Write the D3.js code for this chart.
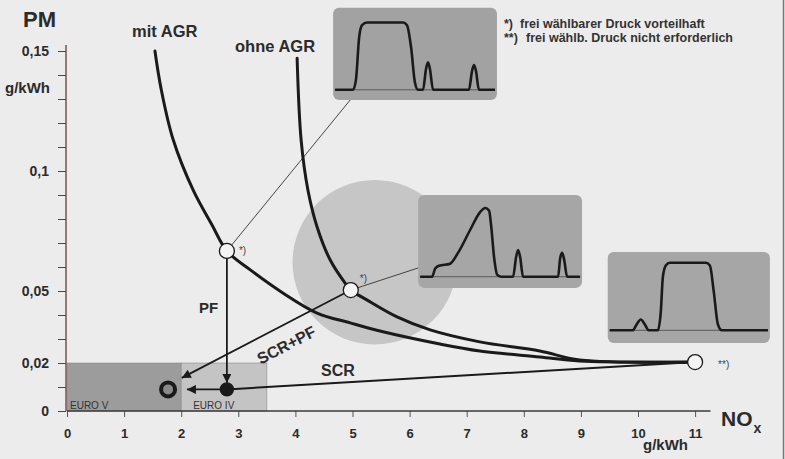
<!DOCTYPE html>
<html>
<head>
<meta charset="utf-8">
<script src="https://cdn.jsdelivr.net/npm/d3@7"></script>
<style>
  body { margin: 0; background: #ececec; }
  text { font-family: "Liberation Sans", Arial, sans-serif; }
</style>
</head>
<body>
<script>
// PM / NOx trade-off, both in g/kWh
const mitAgrNox = [1.54, 1.65, 1.86, 2.21, 2.54, 2.80, 3.21, 3.78, 4.38, 4.96, 5.48, 6.53, 7.23, 8.28, 8.98, 11]
const mitAgrPm = [0.150, 0.134, 0.113, 0.092, 0.0775, 0.0667, 0.0588, 0.0492, 0.0408, 0.0367, 0.0333, 0.0279, 0.025, 0.0225, 0.0208, 0.0204]

const ohneAgrNox = [4.03, 4.10, 4.22, 4.38, 4.61, 4.87, 4.97, 5.25, 5.78, 6.36, 7.23, 8.28, 8.98, 11]
const ohneAgrPm = [0.147, 0.113, 0.092, 0.0767, 0.0629, 0.0533, 0.0504, 0.0463, 0.0392, 0.0338, 0.0288, 0.025, 0.0213, 0.0204]

// operating points
const pointNames = ["mit", "ohne", "scr", "euro4", "euro5"]
const pointNox = [2.80, 4.97, 11, 2.80, 1.77]
const pointPm = [0.0667, 0.0504, 0.0204, 0.009, 0.009]

// arrows: PF, SCR+PF, EURO IV -> EURO V
const arrowFromNox = [2.80, 4.97, 2.80]
const arrowFromPm = [0.0667, 0.0504, 0.009]
const arrowToNox = [2.80, 2.01, 2.10]
const arrowToPm = [0.0117, 0.0138, 0.009]

// EURO limit boxes
const euroNames = ["EURO V", "EURO IV"]
const euroNoxFrom = [0, 2]
const euroNoxTo = [2, 3.5]
const euroPm = [0.02, 0.02]

const xTicks = [0, 1, 2, 3, 4, 5, 6, 7, 8, 9, 10, 11]
const yTicks = [0, 0.02, 0.05, 0.1, 0.15]
const yTickLabels = ["0", "0,02", "0,05", "0,1", "0,15"]
const yMinorTicks = d3.range(0, 16).map(d => d / 100)

// injection rate shapes in the small pictures (t: 0..1 time, v: 0..1 rate)
const pulseTopT = [.012, .122, .140, .159, .177, .207, .427, .451, .476, .5, .518, .549, .567, .579, .591, .61, .829, .848, .86, .872, .89, .988]
const pulseTopV = [0, 0, .16, .78, .96, 1, 1, .96, .63, .1, 0, 0, .31, .41, .31, 0, 0, .28, .37, .28, 0, 0]
const pulseMidT = [.012, .085, .104, .128, .195, .244, .317, .378, .409, .433, .445, .463, .482, .506, .579, .598, .61, .622, .64, .854, .866, .878, .89, .909, .988]
const pulseMidV = [0, 0, .12, .16, .19, .35, .68, .94, 1, .96, .75, .29, .03, 0, 0, .29, .39, .29, 0, 0, .26, .35, .26, 0, 0]
const pulseRightT = [.012, .154, .179, .204, .228, .253, .309, .327, .34, .358, .383, .605, .63, .654, .679, .704, .988]
const pulseRightV = [0, 0, .09, .16, .09, 0, 0, .27, .79, .96, 1, 1, .96, .57, .09, 0, 0]

const width = 785
const height = 459

const svg = d3.select("body").append("svg")
    .attr("width", width)
    .attr("height", height)

svg.append("rect")
    .attr("width", width).attr("height", height)
    .attr("fill", "#ececec")

const x = d3.scaleLinear().domain([0, 11]).range([67, 695.1])
const y = d3.scaleLinear().domain([0, 0.15]).range([411, 51])

const ink = "#1a1a1a"
const textColor = "#2b2b2b"

svg.append("defs").append("marker")
    .attr("id", "arrow")
    .attr("viewBox", "0 -5 10 10")
    .attr("refX", 10)
    .attr("refY", 0)
    .attr("markerUnits", "userSpaceOnUse")
    .attr("markerWidth", 11)
    .attr("markerHeight", 9)
    .attr("orient", "auto")
    .append("path")
    .attr("fill", ink)
    .attr("d", "M0,-5L10,0L0,5Z")

// big grey zone
svg.append("circle")
    .attr("cx", x(5.39))
    .attr("cy", y(0.062))
    .attr("r", x(1.44) - x(0))
    .attr("fill", "#c6c6c6")

// EURO boxes
const euro = euroNames.map((name, i) => ({name, x0: euroNoxFrom[i], x1: euroNoxTo[i], pm: euroPm[i]}))
svg.append("g").selectAll("rect")
    .data(euro)
    .enter().append("rect")
    .attr("x", d => x(d.x0))
    .attr("y", d => y(d.pm))
    .attr("width", d => x(d.x1) - x(d.x0))
    .attr("height", d => y(0) - y(d.pm))
    .attr("fill", (d, i) => i === 0 ? "#9c9c9c" : "#c4c4c4")
    .attr("stroke", "#8a8a8a")
    .attr("stroke-width", 0.6)

svg.append("g").selectAll("text")
    .data(euro)
    .enter().append("text")
    .attr("x", d => x(d.x0) + (d.x0 === 0 ? 3 : 12))
    .attr("y", y(0) - 2)
    .attr("font-size", 10)
    .attr("fill", "#333")
    .text(d => d.name)

// small pictures
const insets = [
    {x0: 4.66, x1: 7.53, top: 0.168, bottom: 0.1296, base: 0.89, peak: 0.16, t: pulseTopT, v: pulseTopV, fill: "#a2a2a2"},
    {x0: 6.15, x1: 9.02, top: 0.09, bottom: 0.0513, base: 0.88, peak: 0.14, t: pulseMidT, v: pulseMidV, fill: "#a6a6a6"},
    {x0: 9.47, x1: 12.31, top: 0.0663, bottom: 0.0283, base: 0.86, peak: 0.12, t: pulseRightT, v: pulseRightV, fill: "#a6a6a6"}
]

insets.forEach(inset => {
    const left = x(inset.x0), top = y(inset.top)
    const w = x(inset.x1) - left, h = y(inset.bottom) - top
    const g = svg.append("g").attr("transform", `translate(${left},${top})`)
    g.append("rect")
        .attr("width", w).attr("height", h)
        .attr("rx", 6)
        .attr("fill", inset.fill)
    const ix = d3.scaleLinear().domain([0, 1]).range([0, w])
    const iy = d3.scaleLinear().domain([0, 1]).range([h * inset.base, h * inset.peak])
    g.append("line")
        .attr("x1", ix(0.012)).attr("x2", ix(0.988))
        .attr("y1", iy(0)).attr("y2", iy(0))
        .attr("stroke", "#5a5a5a").attr("stroke-width", 1)
    const pts = inset.t.map((t, i) => [t, inset.v[i]])
    g.append("path")
        .attr("d", d3.line().x(d => ix(d[0])).y(d => iy(d[1])).curve(d3.curveMonotoneX)(pts))
        .attr("fill", "none")
        .attr("stroke", ink)
        .attr("stroke-width", 2.6)
        .attr("stroke-linejoin", "round")
})

// leader lines
const leaders = [
    [[2.80, 0.0667], [4.96, 0.1296]],
    [[4.97, 0.0504], [6.15, 0.0596]]
]
svg.append("g").selectAll("line")
    .data(leaders)
    .enter().append("line")
    .attr("x1", d => x(d[0][0])).attr("y1", d => y(d[0][1]))
    .attr("x2", d => x(d[1][0])).attr("y2", d => y(d[1][1]))
    .attr("stroke", "#333")
    .attr("stroke-width", 0.9)

// axes
const xAxis = svg.append("g")
    .attr("transform", `translate(0,${y(0)})`)
    .call(d3.axisBottom(x).tickValues(xTicks).tickSize(6).tickPadding(12).tickFormat(d3.format("d")))
xAxis.select(".domain").remove()
xAxis.selectAll("line").attr("stroke", "#555")
xAxis.selectAll("text").attr("font-size", 13).attr("font-weight", "bold").attr("fill", textColor)
    .style("font-family", '"Liberation Sans", Arial, sans-serif')
svg.append("line")
    .attr("x1", x(0)).attr("x2", x(11.27))
    .attr("y1", y(0)).attr("y2", y(0))
    .attr("stroke", "#3a3a3a").attr("stroke-width", 1.3)

const yAxis = svg.append("g")
    .attr("transform", `translate(${x(0) - 1},0)`)
    .call(d3.axisLeft(y).tickValues(yTicks).tickSize(8).tickPadding(9).tickFormat((d, i) => yTickLabels[i]))
yAxis.select(".domain").remove()
yAxis.selectAll("line").attr("stroke", "#6a3a3a")
yAxis.selectAll("text").attr("font-size", 14).attr("font-weight", "bold").attr("fill", textColor)
    .style("font-family", '"Liberation Sans", Arial, sans-serif')
svg.append("g")
    .attr("transform", `translate(${x(0) - 1},0)`)
    .call(d3.axisLeft(y).tickValues(yMinorTicks).tickSize(8).tickFormat(""))
    .call(g => g.select(".domain").remove())
    .selectAll("line").attr("stroke", "#6a3a3a")
svg.append("line")
    .attr("x1", x(0) - 1).attr("x2", x(0) - 1)
    .attr("y1", y(0)).attr("y2", y(0.1525))
    .attr("stroke", "#6a3a3a").attr("stroke-width", 1.3)

// PM-NOx curves
const line = d3.line()
    .x(d => x(d[0]))
    .y(d => y(d[1]))
    .curve(d3.curveCatmullRom.alpha(0.5))

const curves = [
    mitAgrNox.map((v, i) => [v, mitAgrPm[i]]),
    ohneAgrNox.map((v, i) => [v, ohneAgrPm[i]])
]
svg.append("g").selectAll("path")
    .data(curves)
    .enter().append("path")
    .attr("d", line)
    .attr("fill", "none")
    .attr("stroke", ink)
    .attr("stroke-width", 3)
    .attr("stroke-linecap", "round")

// SCR line from the end point to EURO IV point
svg.append("line")
    .attr("x1", x(pointNox[2])).attr("y1", y(pointPm[2]))
    .attr("x2", x(pointNox[3])).attr("y2", y(pointPm[3]))
    .attr("stroke", ink).attr("stroke-width", 2)

// arrows
const arrows = arrowFromNox.map((v, i) => ({x1: v, y1: arrowFromPm[i], x2: arrowToNox[i], y2: arrowToPm[i]}))
svg.append("g").selectAll("line")
    .data(arrows)
    .enter().append("line")
    .attr("x1", d => x(d.x1)).attr("y1", d => y(d.y1))
    .attr("x2", d => x(d.x2)).attr("y2", d => y(d.y2))
    .attr("stroke", ink)
    .attr("stroke-width", 1.8)
    .attr("marker-end", "url(#arrow)")

// points
const points = pointNames.map((name, i) => ({name, nox: pointNox[i], pm: pointPm[i]}))
svg.append("g").selectAll("circle")
    .data(points)
    .enter().append("circle")
    .attr("cx", d => x(d.nox))
    .attr("cy", d => y(d.pm))
    .attr("r", d => d.name === "euro4" ? 6.5 : d.name === "euro5" ? 7 : 7.5)
    .attr("fill", d => d.name === "euro4" ? ink : d.name === "euro5" ? "#8a8a8a" : "#f4f4f4")
    .attr("stroke", ink)
    .attr("stroke-width", d => d.name === "euro5" ? 4 : 1.3)

// labels
const labels = [
    {text: "PM", px: 23, py: 27, size: 22},
    {text: "g/kWh", px: 5, py: 93, size: 15},
    {text: "mit AGR", px: 132, py: 37, size: 16.5},
    {text: "ohne AGR", px: 235, py: 52, size: 16.5},
    {text: "PF", px: 199, py: 313, size: 15},
    {text: "SCR", px: 321, py: 376, size: 16},
    {text: "g/kWh", px: 643, py: 450, size: 15}
]
svg.append("g").selectAll("text")
    .data(labels)
    .enter().append("text")
    .attr("x", d => d.px)
    .attr("y", d => d.py)
    .attr("font-size", d => d.size)
    .attr("font-weight", "bold")
    .attr("fill", textColor)
    .text(d => d.text)

const nox = svg.append("text")
    .attr("x", 721).attr("y", 426)
    .attr("font-size", 21).attr("font-weight", "bold").attr("fill", textColor)
nox.append("tspan").text("NO")
nox.append("tspan").attr("dy", 7).attr("dx", 1).attr("font-size", 14).text("x")

// SCR+PF along the arrow
const ang = Math.atan2(y(arrowToPm[1]) - y(arrowFromPm[1]), x(arrowToNox[1]) - x(arrowFromNox[1])) * 180 / Math.PI + 180
svg.append("text")
    .attr("transform", `translate(289,350) rotate(${ang})`)
    .attr("text-anchor", "middle")
    .attr("font-size", 16)
    .attr("font-weight", "bold")
    .attr("fill", textColor)
    .text("SCR+PF")

// footnote marks
const marks = [
    {text: "*)", px: x(2.80) + 12, py: y(0.0667) + 3},
    {text: "*)", px: x(4.97) + 9, py: y(0.0504) - 8},
    {text: "**)", px: x(11) + 23, py: y(0.0204) + 6}
]
svg.append("g").selectAll("text")
    .data(marks)
    .enter().append("text")
    .attr("x", d => d.px)
    .attr("y", d => d.py)
    .attr("font-size", 10)
    .attr("fill", "#444")
    .text(d => d.text)

const notes = [
    {mark: "*)", text: "frei wählbarer Druck vorteilhaft", tx: 520, py: 28},
    {mark: "**)", text: "frei wählb. Druck nicht erforderlich", tx: 526, py: 42}
]
notes.forEach(n => {
    svg.append("text")
        .attr("x", 504).attr("y", n.py)
        .attr("font-size", 12.5).attr("font-weight", "bold").attr("fill", "#333")
        .text(n.mark)
    svg.append("text")
        .attr("x", n.tx).attr("y", n.py)
        .attr("font-size", 12.5).attr("font-weight", "bold").attr("fill", "#333")
        .text(n.text)
})

// right border of the scan
svg.append("line")
    .attr("x1", 783.5).attr("x2", 783.5)
    .attr("y1", 0).attr("y2", height)
    .attr("stroke", "#777").attr("stroke-width", 1.5)
</script>
</body>
</html>
